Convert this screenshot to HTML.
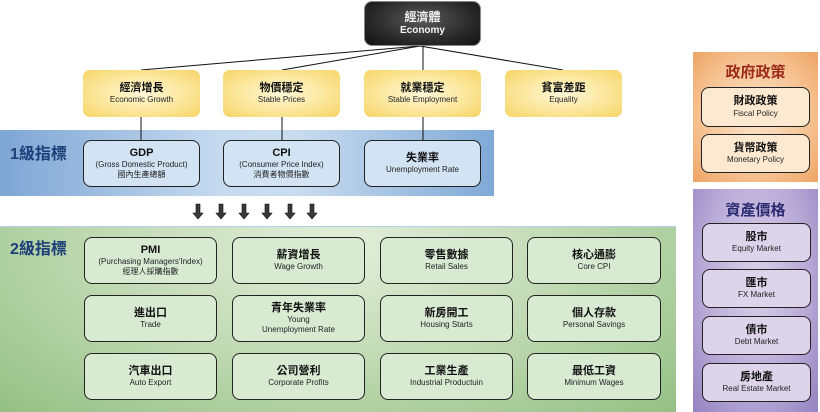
<!DOCTYPE html>
<html><head><meta charset="utf-8"><style>
*{margin:0;padding:0;box-sizing:border-box}
body{width:820px;height:412px;position:relative;background:#fff;font-family:"Liberation Sans","Noto Sans CJK TC",sans-serif;overflow:hidden}
.a{position:absolute}
.box{position:absolute;display:flex;flex-direction:column;align-items:center;justify-content:center;text-align:center;border:1px solid #222;border-radius:8px;color:#111;line-height:1.25}
.box b{font-size:11px;font-weight:bold}
.box span{font-size:8px;color:#222}
.y{border:none;border-radius:7px;background:radial-gradient(ellipse at center,#fff8d8 0%,#fbe69a 55%,#f6d466 100%)}
.bl{background:#d2e3f3}
.gr{background:#d9ead3}
.og{background:#fde9d0}
.pu{background:#dcd4ea}
.lbl{position:absolute;font-weight:bold;font-size:16px;color:#1c3f7a}
.arr{position:absolute;width:0;height:0}
</style></head><body>
<div class="a" style="left:0;top:130px;width:494px;height:66px;background:linear-gradient(90deg,#7ea6d4 0%,#c6daef 45%,#c9dcef 60%,#7fa9d6 100%)"></div>
<div class="a" style="left:0;top:226px;width:676px;height:186px;background:radial-gradient(ellipse at 50% 10%,#e3eedb 0%,#bcd7ae 55%,#94c084 100%);border-top:1px solid #b8cfe8"></div>
<div class="a" style="left:693px;top:52px;width:125px;height:130px;background:radial-gradient(ellipse at 50% 50%,#fbe4cc 0%,#f6c393 60%,#eea466 100%)"></div>
<div class="a" style="left:693px;top:189px;width:125px;height:223px;background:radial-gradient(ellipse at 50% 40%,#dcd2ea 0%,#b7a8d6 60%,#9482c0 100%)"></div>
<svg class="a" style="left:0;top:0" width="820" height="412">
<g stroke="#111" stroke-width="1" fill="none">
<line x1="420" y1="46" x2="141" y2="70"/><line x1="420" y1="46" x2="282" y2="70"/>
<line x1="423" y1="46" x2="423" y2="70"/><line x1="420" y1="46" x2="563" y2="70"/>
<line x1="141" y1="117" x2="141" y2="140"/><line x1="282" y1="117" x2="282" y2="140"/><line x1="423" y1="117" x2="423" y2="140"/>
</g>
<g fill="#3a3a3a" stroke="#111" stroke-width="0.6">
<path d="M196 204h4v9h3l-5 6l-5-6h3z"/><path d="M219 204h4v9h3l-5 6l-5-6h3z"/><path d="M242 204h4v9h3l-5 6l-5-6h3z"/>
<path d="M265 204h4v9h3l-5 6l-5-6h3z"/><path d="M288 204h4v9h3l-5 6l-5-6h3z"/><path d="M310 204h4v9h3l-5 6l-5-6h3z"/>
</g></svg>
<div class="box" style="left:364px;top:1px;width:117px;height:45px;border:1px solid #888;background:radial-gradient(ellipse at 50% 40%,#5a5a5a 0%,#2a2a2a 60%,#111 100%);color:#fff"><b style="font-size:12px;color:#f4f4f4">經濟體</b><span style="font-size:10px;color:#f4f4f4;font-weight:bold">Economy</span></div>
<div class="box y" style="left:83px;top:70px;width:117px;height:47px"><b>經濟增長</b><span>Economic Growth</span></div>
<div class="box y" style="left:223px;top:70px;width:117px;height:47px"><b>物價穩定</b><span>Stable Prices</span></div>
<div class="box y" style="left:364px;top:70px;width:117px;height:47px"><b>就業穩定</b><span>Stable Employment</span></div>
<div class="box y" style="left:505px;top:70px;width:117px;height:47px"><b>貧富差距</b><span>Equality</span></div>
<div class="lbl" style="left:10px;top:140px">1級指標</div>
<div class="box bl" style="left:83px;top:140px;width:117px;height:47px"><b>GDP</b><span>(Gross Domestic Product)</span><span>國內生產總額</span></div>
<div class="box bl" style="left:223px;top:140px;width:117px;height:47px"><b>CPI</b><span>(Consumer Price Index)</span><span>消費者物價指數</span></div>
<div class="box bl" style="left:364px;top:140px;width:117px;height:47px"><b>失業率</b><span>Unemployment Rate</span></div>
<div class="lbl" style="left:10px;top:235px">2級指標</div>
<div class="box gr" style="left:84px;top:237px;width:133px;height:47px"><b>PMI</b><span>(Purchasing Managers'Index)</span><span>經理人採購指數</span></div>
<div class="box gr" style="left:232px;top:237px;width:133px;height:47px"><b>薪資增長</b><span>Wage Growth</span></div>
<div class="box gr" style="left:380px;top:237px;width:133px;height:47px"><b>零售數據</b><span>Retail Sales</span></div>
<div class="box gr" style="left:527px;top:237px;width:134px;height:47px"><b>核心通膨</b><span>Core CPI</span></div>
<div class="box gr" style="left:84px;top:295px;width:133px;height:47px"><b>進出口</b><span>Trade</span></div>
<div class="box gr" style="left:232px;top:295px;width:133px;height:47px"><b>青年失業率</b><span>Young</span><span>Unemployment Rate</span></div>
<div class="box gr" style="left:380px;top:295px;width:133px;height:47px"><b>新房開工</b><span>Housing Starts</span></div>
<div class="box gr" style="left:527px;top:295px;width:134px;height:47px"><b>個人存款</b><span>Personal Savings</span></div>
<div class="box gr" style="left:84px;top:353px;width:133px;height:47px"><b>汽車出口</b><span>Auto Export</span></div>
<div class="box gr" style="left:232px;top:353px;width:133px;height:47px"><b>公司營利</b><span>Corporate Profits</span></div>
<div class="box gr" style="left:380px;top:353px;width:133px;height:47px"><b>工業生產</b><span>Industrial Productuin</span></div>
<div class="box gr" style="left:527px;top:353px;width:134px;height:47px"><b>最低工資</b><span>Minimum Wages</span></div>
<div class="a" style="left:693px;top:61px;width:125px;text-align:center;font-weight:bold;font-size:15px;color:#9b2a1a">政府政策</div>
<div class="box og" style="left:701px;top:87px;width:109px;height:40px"><b>財政政策</b><span>Fiscal Policy</span></div>
<div class="box og" style="left:701px;top:134px;width:109px;height:39px"><b>貨幣政策</b><span>Monetary Policy</span></div>
<div class="a" style="left:693px;top:199px;width:125px;text-align:center;font-weight:bold;font-size:15px;color:#2a2a70">資產價格</div>
<div class="box pu" style="left:702px;top:223px;width:109px;height:39px"><b>股市</b><span>Equity Market</span></div>
<div class="box pu" style="left:702px;top:269px;width:109px;height:39px"><b>匯市</b><span>FX Market</span></div>
<div class="box pu" style="left:702px;top:316px;width:109px;height:39px"><b>債市</b><span>Debt Market</span></div>
<div class="box pu" style="left:702px;top:363px;width:109px;height:39px"><b>房地產</b><span>Real Estate Market</span></div>
</body></html>
